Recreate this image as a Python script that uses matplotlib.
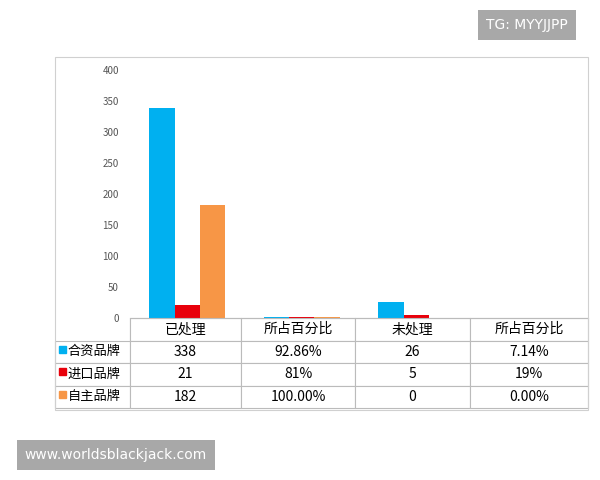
import matplotlib
matplotlib.use('Agg')
import matplotlib.pyplot as plt
import numpy as np
from matplotlib.patches import Rectangle

plt.rcParams['font.family'] = ['Noto Sans CJK SC', 'DejaVu Sans']

categories = ['已处理', '所占百分比', '未处理', '所占百分比']
series = ['合资品牌', '进口品牌', '自主品牌']
values = {
    '合资品牌': [338, 0.9286, 26, 0.0714],
    '进口品牌': [21, 0.81, 5, 0.19],
    '自主品牌': [182, 1.0, 0, 0.0],
}
labels = {
    '合资品牌': ['338', '92.86%', '26', '7.14%'],
    '进口品牌': ['21', '81%', '5', '19%'],
    '自主品牌': ['182', '100.00%', '0', '0.00%'],
}
colors = ['#00B0F0', '#E8000B', '#F79646']

fig = plt.figure(figsize=(6, 4.8), dpi=100)
fig.patches.append(Rectangle((55/600, 1-410/480), 533/600, 353/480, transform=fig.transFigure,
                             fill=False, edgecolor='#d0d0d0', lw=0.8))
ax = fig.add_axes([130/600, 1-318/480, 458/600, 248/480])
x = np.arange(len(categories))
w = 0.22
for i, s in enumerate(series):
    ax.bar(x + (i-1)*w, values[s], w, color=colors[i])
ax.set_xlim(-0.5, len(categories)-0.5)
ax.set_ylim(0, 400)
ax.set_yticks(range(0, 401, 50))
ax.set_xticks([])
for sp in ['top', 'right', 'left']:
    ax.spines[sp].set_visible(False)
ax.spines['bottom'].set_color('#bbbbbb')
ax.tick_params(axis='y', length=0, labelsize=7, labelcolor='#555555', pad=8)

cell_text = [[''] + categories] + [[s] + labels[s] for s in series]
widths = np.array([75, 111, 114, 115, 118]) / 533
tb = ax.table(cellText=cell_text, colWidths=widths, cellLoc='center',
              bbox=[-75/458, -90/248, 533/458, 90/248])
tb.auto_set_font_size(False)
for (r, c), cell in tb.get_celld().items():
    cell.set_edgecolor('#bbbbbb')
    cell.set_linewidth(0.8)
    cell.get_text().set_fontsize(10)
    if c == 0:
        cell.get_text().set_ha('left')
        cell.PAD = 0.17
        cell.get_text().set_fontsize(9.5)
    if r == 0 and c == 0:
        cell.visible_edges = 'R'
for i, s in enumerate(series):
    ax.add_patch(Rectangle((-71/458, -(22.5*(i+1) + 11.25 + 1)/248), 7/458, 7/248,
                           color=colors[i], clip_on=False, transform=ax.transAxes))

fig.text(527/600, 1-25/480, 'TG: MYYJJPP', ha='center', va='center', color='white', fontsize=10,
         family='DejaVu Sans', bbox=dict(boxstyle='square,pad=0.6', fc='#a8a8a8', ec='none'))
fig.text(116/600, 1-455/480, 'www.worldsblackjack.com', ha='center', va='center', color='white',
         fontsize=10, family='DejaVu Sans', bbox=dict(boxstyle='square,pad=0.6', fc='#a8a8a8', ec='none'))
fig.savefig('out.png', dpi=100)
